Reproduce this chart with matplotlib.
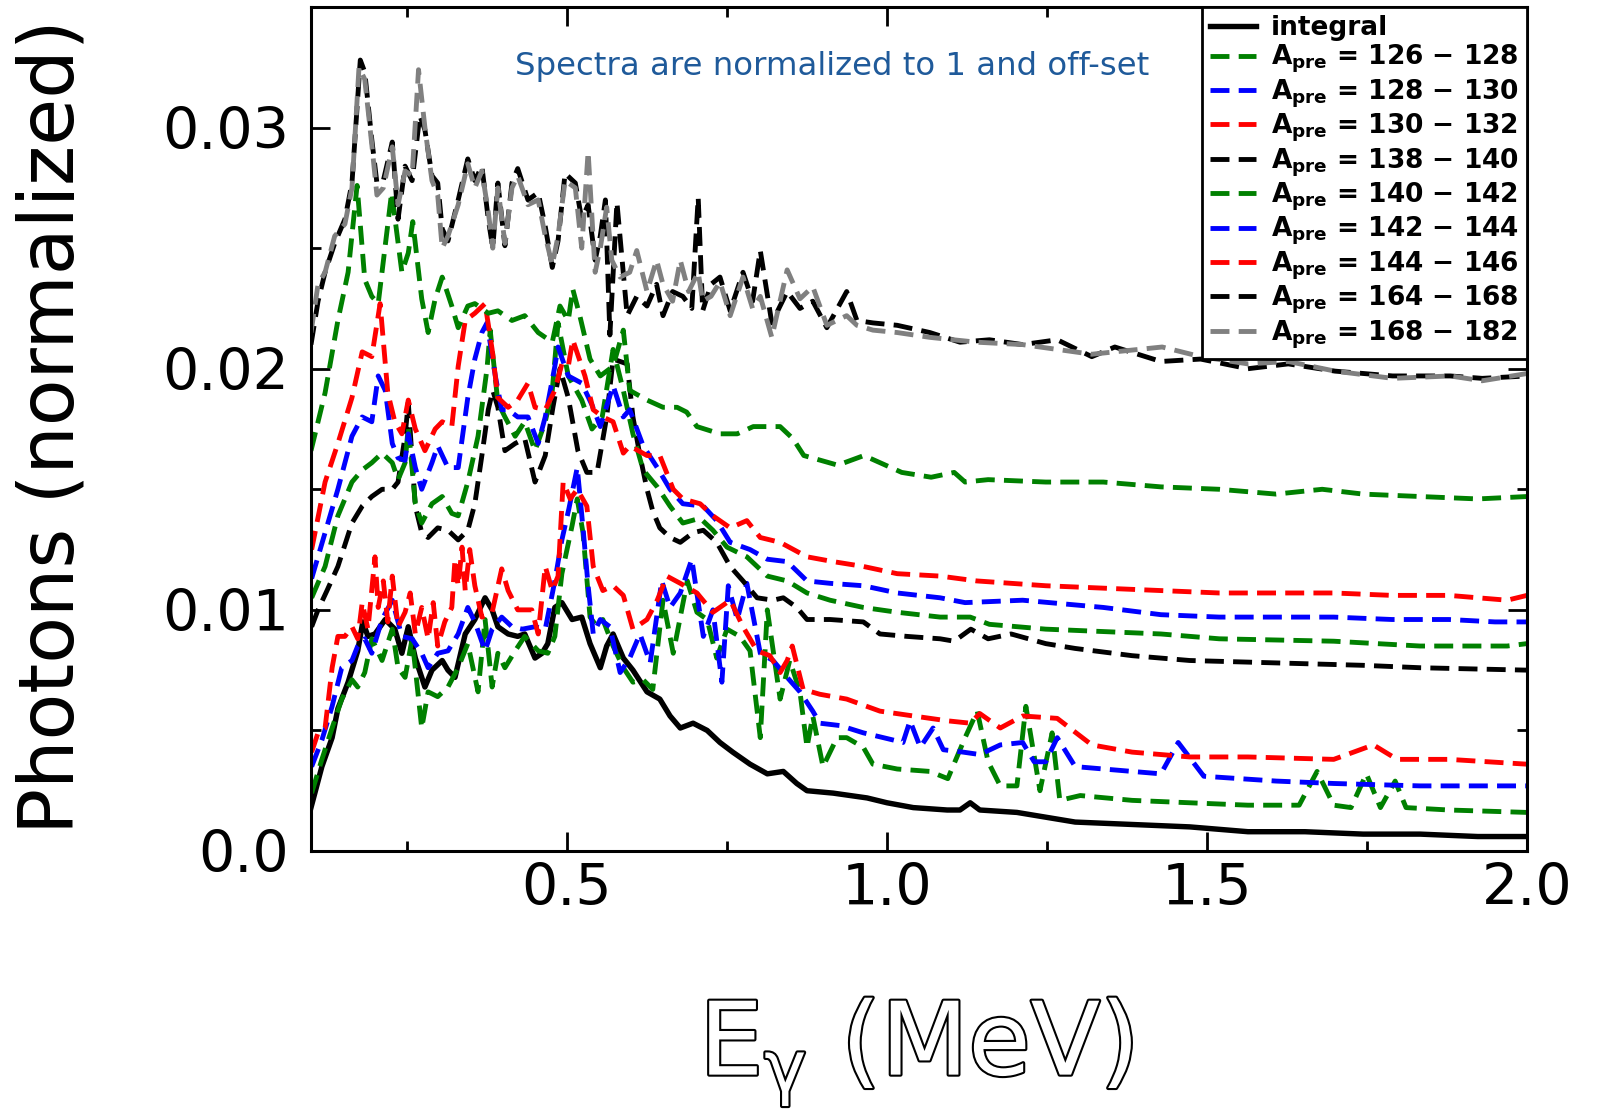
import matplotlib
matplotlib.use('Agg')
import matplotlib.pyplot as plt
import matplotlib.patheffects as pe
from matplotlib.ticker import MultipleLocator, FixedLocator, FuncFormatter

# ---------------- data (E in MeV, photons normalized + offset) ----------------
integral = [(0.100,0.0018),(0.117,0.0035),(0.133,0.0047),(0.142,0.0059),(0.158,0.0070),(0.173,0.0083),
    (0.181,0.0095),(0.189,0.0089),(0.200,0.0090),(0.216,0.0096),(0.231,0.0092),(0.242,0.0082),(0.252,0.0093),
    (0.263,0.0080),(0.278,0.0068),(0.289,0.0075),(0.305,0.0079),(0.314,0.0075),(0.325,0.0072),(0.341,0.0090),
    (0.356,0.0096),(0.372,0.0105),(0.383,0.0100),(0.392,0.0093),(0.408,0.0090),(0.423,0.0089),(0.434,0.0090),
    (0.450,0.0080),(0.461,0.0082),(0.470,0.0086),(0.481,0.0101),(0.492,0.0103),(0.508,0.0096),(0.523,0.0097),
    (0.536,0.0086),(0.552,0.0076),(0.562,0.0085),(0.572,0.0090),(0.588,0.0080),(0.603,0.0075),(0.625,0.0066),
    (0.645,0.0063),(0.661,0.0056),(0.677,0.0051),(0.697,0.0053),(0.719,0.0050),(0.739,0.0045),(0.759,0.0041),
    (0.786,0.0036),(0.813,0.0032),(0.838,0.0033),(0.859,0.0028),(0.875,0.0025),(0.916,0.0024),(0.969,0.0022),
    (1.000,0.0020),(1.041,0.0018),(1.094,0.0017),(1.114,0.0017),(1.130,0.0020),(1.145,0.0017),(1.203,0.0016),
    (1.294,0.0012),(1.383,0.0011),(1.473,0.0010),(1.564,0.0008),(1.653,0.0008),(1.744,0.0007),(1.833,0.0007),
    (1.923,0.0006),(2.000,0.0006)]

a126 = [(0.101,0.0024),(0.117,0.0038),(0.133,0.0051),(0.148,0.0063),(0.164,0.0071),(0.173,0.0068),(0.184,0.0074),
    (0.195,0.0088),(0.211,0.0079),(0.227,0.0092),(0.236,0.0076),(0.247,0.0072),(0.258,0.0088),(0.273,0.0051),
    (0.283,0.0066),(0.298,0.0064),(0.314,0.0068),(0.330,0.0076),(0.345,0.0086),(0.361,0.0066),(0.372,0.0096),
    (0.383,0.0068),(0.392,0.0082),(0.403,0.0076),(0.419,0.0083),(0.434,0.0089),(0.455,0.0083),(0.470,0.0082),
    (0.481,0.0089),(0.492,0.0115),(0.508,0.0135),(0.516,0.0146),(0.525,0.0132),(0.536,0.0097),(0.547,0.0093),
    (0.556,0.0096),(0.572,0.0085),(0.588,0.0076),(0.603,0.0070),(0.619,0.0071),(0.634,0.0067),(0.650,0.0104),
    (0.666,0.0082),(0.688,0.0112),(0.703,0.0099),(0.719,0.0096),(0.734,0.0080),(0.750,0.0092),(0.770,0.0089),
    (0.786,0.0083),(0.802,0.0047),(0.813,0.0100),(0.833,0.0063),(0.848,0.0079),(0.864,0.0066),(0.875,0.0043),
    (0.884,0.0056),(0.900,0.0035),(0.922,0.0047),(0.937,0.0047),(0.963,0.0043),(0.978,0.0036),(1.016,0.0034),
    (1.067,0.0033),(1.095,0.0030),(1.122,0.0047),(1.141,0.0058),(1.158,0.0037),(1.177,0.0027),(1.203,0.0027),
    (1.217,0.0060),(1.239,0.0025),(1.258,0.0049),(1.270,0.0021),(1.302,0.0023),(1.383,0.0021),(1.473,0.0020),
    (1.564,0.0019),(1.644,0.0019),(1.672,0.0033),(1.698,0.0019),(1.725,0.0018),(1.749,0.0032),(1.771,0.0018),
    (1.794,0.0029),(1.811,0.0018),(1.878,0.0017),(2.000,0.0016)]

a128 = [(0.101,0.0035),(0.117,0.0046),(0.133,0.0060),(0.148,0.0076),(0.164,0.0079),(0.173,0.0085),(0.184,0.0088),
    (0.195,0.0082),(0.211,0.0096),(0.227,0.0104),(0.242,0.0089),(0.258,0.0088),(0.273,0.0082),(0.283,0.0076),
    (0.298,0.0082),(0.314,0.0083),(0.330,0.0090),(0.345,0.0101),(0.356,0.0095),(0.372,0.0083),(0.383,0.0092),
    (0.398,0.0097),(0.414,0.0093),(0.430,0.0092),(0.450,0.0093),(0.466,0.0092),(0.481,0.0112),(0.492,0.0129),
    (0.503,0.0142),(0.516,0.0159),(0.525,0.0134),(0.533,0.0110),(0.541,0.0090),(0.552,0.0096),(0.567,0.0093),
    (0.583,0.0074),(0.598,0.0080),(0.614,0.0090),(0.630,0.0078),(0.648,0.0112),(0.661,0.0101),(0.677,0.0107),
    (0.695,0.0121),(0.713,0.0089),(0.728,0.0100),(0.742,0.0070),(0.752,0.0110),(0.766,0.0096),(0.781,0.0111),
    (0.802,0.0082),(0.822,0.0079),(0.844,0.0072),(0.864,0.0066),(0.884,0.0058),(0.895,0.0053),(0.927,0.0052),
    (0.963,0.0049),(1.010,0.0046),(1.025,0.0045),(1.036,0.0054),(1.052,0.0043),(1.072,0.0051),(1.088,0.0042),
    (1.119,0.0041),(1.145,0.0040),(1.177,0.0044),(1.212,0.0045),(1.230,0.0037),(1.248,0.0037),(1.266,0.0047),
    (1.294,0.0035),(1.383,0.0033),(1.428,0.0032),(1.455,0.0045),(1.495,0.0031),(1.608,0.0029),(1.698,0.0028),
    (1.833,0.0027),(2.000,0.0027)]

a130 = [(0.101,0.0041),(0.111,0.0049),(0.122,0.0051),(0.133,0.0076),(0.142,0.0089),(0.153,0.0089),(0.164,0.0093),
    (0.173,0.0088),(0.180,0.0103),(0.189,0.0092),(0.200,0.0122),(0.205,0.0101),(0.213,0.0112),(0.220,0.0095),
    (0.227,0.0114),(0.236,0.0093),(0.247,0.0099),(0.255,0.0107),(0.263,0.0090),(0.273,0.0101),(0.283,0.0088),
    (0.291,0.0103),(0.298,0.0085),(0.309,0.0095),(0.320,0.0101),(0.325,0.0121),(0.330,0.0110),(0.336,0.0126),
    (0.341,0.0108),(0.348,0.0125),(0.356,0.0110),(0.367,0.0097),(0.383,0.0099),(0.398,0.0117),(0.408,0.0108),
    (0.423,0.0100),(0.445,0.0100),(0.455,0.0090),(0.466,0.0118),(0.477,0.0108),(0.486,0.0114),(0.494,0.0153),
    (0.505,0.0146),(0.516,0.0150),(0.531,0.0143),(0.541,0.0118),(0.556,0.0108),(0.572,0.0110),(0.588,0.0106),
    (0.603,0.0092),(0.625,0.0096),(0.641,0.0104),(0.656,0.0114),(0.677,0.0111),(0.703,0.0107),(0.728,0.0099),
    (0.755,0.0104),(0.775,0.0093),(0.797,0.0083),(0.817,0.0081),(0.833,0.0074),(0.844,0.0079),(0.852,0.0085),
    (0.869,0.0067),(0.895,0.0065),(0.937,0.0063),(0.989,0.0058),(1.041,0.0056),(1.094,0.0054),(1.130,0.0053),
    (1.145,0.0057),(1.177,0.0051),(1.212,0.0056),(1.266,0.0055),(1.320,0.0044),(1.383,0.0041),(1.473,0.0039),
    (1.564,0.0039),(1.698,0.0038),(1.760,0.0044),(1.797,0.0038),(1.878,0.0038),(2.000,0.0036)]

a138 = [(0.101,0.0093),(0.111,0.0100),(0.125,0.0108),(0.142,0.0118),(0.164,0.0136),(0.180,0.0143),(0.195,0.0147),
    (0.211,0.0150),(0.227,0.0150),(0.236,0.0153),(0.247,0.0172),(0.252,0.0186),(0.263,0.0143),(0.273,0.0132),
    (0.283,0.0130),(0.298,0.0134),(0.314,0.0133),(0.330,0.0129),(0.345,0.0133),(0.356,0.0144),(0.367,0.0164),
    (0.377,0.0183),(0.384,0.0191),(0.392,0.0184),(0.403,0.0166),(0.419,0.0169),(0.434,0.0171),(0.450,0.0153),
    (0.466,0.0164),(0.478,0.0184),(0.489,0.0200),(0.502,0.0188),(0.517,0.0166),(0.531,0.0157),(0.547,0.0157),
    (0.562,0.0180),(0.572,0.0204),(0.594,0.0202),(0.603,0.0180),(0.614,0.0164),(0.625,0.0150),(0.634,0.0141),
    (0.645,0.0134),(0.661,0.0130),(0.677,0.0128),(0.697,0.0132),(0.713,0.0133),(0.734,0.0128),(0.755,0.0118),
    (0.775,0.0112),(0.797,0.0105),(0.822,0.0104),(0.838,0.0105),(0.859,0.0101),(0.875,0.0096),(0.911,0.0096),
    (0.963,0.0095),(0.989,0.0090),(1.031,0.0089),(1.083,0.0088),(1.105,0.0087),(1.131,0.0092),(1.158,0.0088),
    (1.194,0.0090),(1.248,0.0086),(1.294,0.0084),(1.383,0.0081),(1.473,0.0079),(1.608,0.0078),(1.744,0.0077),
    (1.833,0.0076),(2.000,0.0075)]

a140 = [(0.101,0.0105),(0.122,0.0118),(0.142,0.0139),(0.164,0.0153),(0.180,0.0158),(0.195,0.0161),(0.211,0.0165),
    (0.227,0.0161),(0.236,0.0154),(0.247,0.0161),(0.252,0.0176),(0.263,0.0144),(0.273,0.0136),(0.289,0.0144),
    (0.305,0.0147),(0.320,0.0140),(0.330,0.0139),(0.345,0.0153),(0.361,0.0172),(0.375,0.0200),(0.380,0.0216),
    (0.392,0.0186),(0.403,0.0180),(0.419,0.0172),(0.434,0.0178),(0.450,0.0166),(0.466,0.0178),(0.477,0.0191),
    (0.486,0.0219),(0.502,0.0197),(0.523,0.0187),(0.539,0.0175),(0.555,0.0180),(0.572,0.0208),(0.588,0.0191),
    (0.603,0.0173),(0.619,0.0158),(0.641,0.0151),(0.661,0.0143),(0.681,0.0136),(0.708,0.0138),(0.728,0.0133),
    (0.750,0.0126),(0.781,0.0122),(0.813,0.0114),(0.844,0.0112),(0.875,0.0107),(0.911,0.0104),(0.963,0.0101),
    (1.016,0.0099),(1.083,0.0097),(1.130,0.0097),(1.160,0.0094),(1.248,0.0092),(1.338,0.0091),(1.428,0.0090),
    (1.519,0.0088),(1.698,0.0087),(1.833,0.0085),(1.969,0.0085),(2.000,0.0086)]

a142 = [(0.101,0.0113),(0.122,0.0132),(0.142,0.0150),(0.164,0.0172),(0.180,0.0180),(0.195,0.0178),(0.205,0.0197),
    (0.216,0.0191),(0.227,0.0169),(0.236,0.0163),(0.247,0.0162),(0.252,0.0173),(0.263,0.0159),(0.273,0.0150),
    (0.289,0.0161),(0.298,0.0168),(0.314,0.0159),(0.330,0.0159),(0.345,0.0188),(0.356,0.0204),(0.367,0.0215),
    (0.375,0.0219),(0.388,0.0197),(0.398,0.0183),(0.408,0.0183),(0.423,0.0180),(0.439,0.0180),(0.455,0.0169),
    (0.466,0.0180),(0.481,0.0201),(0.486,0.0209),(0.502,0.0197),(0.523,0.0194),(0.539,0.0185),(0.552,0.0176),
    (0.572,0.0193),(0.588,0.0180),(0.598,0.0183),(0.619,0.0168),(0.641,0.0159),(0.661,0.0150),(0.681,0.0144),
    (0.713,0.0143),(0.734,0.0137),(0.755,0.0128),(0.786,0.0125),(0.813,0.0121),(0.844,0.0120),(0.875,0.0112),
    (0.911,0.0111),(0.963,0.0110),(1.016,0.0107),(1.083,0.0105),(1.122,0.0103),(1.212,0.0104),(1.338,0.0101),
    (1.428,0.0098),(1.519,0.0097),(1.698,0.0097),(1.789,0.0096),(1.878,0.0096),(1.950,0.0095),(2.000,0.0095)]

a144 = [(0.101,0.0125),(0.122,0.0153),(0.142,0.0169),(0.164,0.0188),(0.180,0.0207),(0.195,0.0205),(0.208,0.0227),
    (0.220,0.0190),(0.231,0.0178),(0.242,0.0173),(0.252,0.0187),(0.263,0.0175),(0.278,0.0166),(0.294,0.0175),
    (0.305,0.0178),(0.320,0.0176),(0.330,0.0201),(0.341,0.0220),(0.356,0.0223),(0.372,0.0227),(0.383,0.0208),
    (0.392,0.0188),(0.408,0.0184),(0.423,0.0187),(0.439,0.0194),(0.450,0.0184),(0.466,0.0183),(0.481,0.0191),
    (0.492,0.0202),(0.502,0.0201),(0.509,0.0212),(0.528,0.0197),(0.541,0.0183),(0.556,0.0180),(0.572,0.0178),
    (0.588,0.0165),(0.598,0.0168),(0.625,0.0164),(0.645,0.0164),(0.666,0.0150),(0.681,0.0146),(0.708,0.0144),
    (0.728,0.0139),(0.755,0.0134),(0.781,0.0137),(0.802,0.0130),(0.833,0.0128),(0.875,0.0122),(0.916,0.0120),
    (0.963,0.0118),(1.016,0.0115),(1.083,0.0114),(1.140,0.0112),(1.248,0.0110),(1.338,0.0109),(1.428,0.0108),
    (1.519,0.0107),(1.698,0.0107),(1.789,0.0106),(1.878,0.0106),(1.969,0.0104),(2.000,0.0106)]

green_off = [(0.100,0.0166),(0.122,0.0190),(0.142,0.0220),(0.158,0.0240),(0.172,0.0276),(0.184,0.0237),
    (0.195,0.0230),(0.205,0.0227),(0.226,0.0273),(0.242,0.0240),(0.252,0.0248),(0.259,0.0261),(0.273,0.0229),
    (0.283,0.0215),(0.294,0.0229),(0.305,0.0238),(0.320,0.0226),(0.330,0.0217),(0.345,0.0226),(0.356,0.0227),
    (0.377,0.0223),(0.392,0.0224),(0.414,0.0220),(0.434,0.0222),(0.455,0.0215),(0.477,0.0211),(0.489,0.0226),
    (0.502,0.0220),(0.509,0.0233),(0.520,0.0222),(0.536,0.0204),(0.552,0.0197),(0.572,0.0201),(0.588,0.0216),
    (0.598,0.0191),(0.625,0.0187),(0.650,0.0184),(0.672,0.0184),(0.687,0.0182),(0.703,0.0176),(0.739,0.0173),
    (0.766,0.0173),(0.791,0.0176),(0.833,0.0176),(0.853,0.0171),(0.870,0.0164),(0.923,0.0160),(0.964,0.0164),
    (1.023,0.0157),(1.069,0.0155),(1.105,0.0157),(1.122,0.0153),(1.158,0.0154),(1.248,0.0153),(1.338,0.0153),
    (1.428,0.0151),(1.519,0.0150),(1.608,0.0148),(1.680,0.0150),(1.744,0.0148),(1.833,0.0147),(1.923,0.0146),
    (2.000,0.0147)]

a164 = [(0.100,0.0210),(0.111,0.0228),(0.122,0.0240),(0.137,0.0252),(0.153,0.0262),(0.164,0.0277),(0.177,0.0328),
    (0.184,0.0323),(0.195,0.0295),(0.203,0.0277),(0.213,0.0278),(0.227,0.0294),(0.236,0.0262),(0.247,0.0284),
    (0.258,0.0278),(0.270,0.0305),(0.278,0.0299),(0.289,0.0280),(0.298,0.0277),(0.305,0.0258),(0.314,0.0253),
    (0.330,0.0270),(0.345,0.0287),(0.356,0.0278),(0.367,0.0284),(0.377,0.0262),(0.384,0.0250),(0.392,0.0277),
    (0.403,0.0251),(0.414,0.0277),(0.423,0.0283),(0.439,0.0270),(0.455,0.0273),(0.466,0.0259),(0.477,0.0242),
    (0.486,0.0253),(0.497,0.0281),(0.513,0.0277),(0.523,0.0262),(0.533,0.0268),(0.544,0.0245),(0.552,0.0255),
    (0.560,0.0270),(0.567,0.0214),(0.578,0.0269),(0.594,0.0222),(0.609,0.0230),(0.625,0.0226),(0.640,0.0235),
    (0.650,0.0222),(0.665,0.0232),(0.681,0.0230),(0.695,0.0225),(0.705,0.0271),(0.712,0.0224),(0.725,0.0235),
    (0.739,0.0238),(0.755,0.0224),(0.775,0.0240),(0.790,0.0228),(0.802,0.0249),(0.820,0.0219),(0.844,0.0232),
    (0.864,0.0225),(0.884,0.0228),(0.906,0.0217),(0.937,0.0232),(0.953,0.0220),(0.978,0.0219),(1.016,0.0218),
    (1.067,0.0215),(1.114,0.0211),(1.160,0.0212),(1.212,0.0210),(1.266,0.0212),(1.320,0.0205),(1.356,0.0209),
    (1.428,0.0203),(1.490,0.0204),(1.564,0.0200),(1.627,0.0202),(1.700,0.0199),(1.790,0.0197),(1.880,0.0197),
    (1.930,0.0196),(2.000,0.0197)]

a168 = [(0.100,0.0215),(0.111,0.0235),(0.122,0.0240),(0.137,0.0255),(0.153,0.0260),(0.164,0.0275),(0.175,0.0325),
    (0.184,0.0320),(0.195,0.0293),(0.203,0.0272),(0.213,0.0275),(0.227,0.0292),(0.236,0.0268),(0.247,0.0282),
    (0.258,0.0280),(0.268,0.0324),(0.278,0.0300),(0.289,0.0278),(0.298,0.0272),(0.305,0.0250),(0.314,0.0255),
    (0.330,0.0268),(0.345,0.0285),(0.356,0.0275),(0.367,0.0282),(0.377,0.0265),(0.384,0.0250),(0.392,0.0275),
    (0.403,0.0252),(0.414,0.0275),(0.423,0.0280),(0.439,0.0268),(0.455,0.0270),(0.466,0.0255),(0.477,0.0243),
    (0.486,0.0255),(0.497,0.0278),(0.513,0.0275),(0.523,0.0250),(0.533,0.0290),(0.544,0.0240),(0.552,0.0250),
    (0.562,0.0267),(0.570,0.0245),(0.583,0.0238),(0.598,0.0240),(0.609,0.0249),(0.625,0.0232),(0.640,0.0245),
    (0.650,0.0235),(0.665,0.0228),(0.677,0.0245),(0.690,0.0232),(0.705,0.0240),(0.712,0.0228),(0.725,0.0230),
    (0.739,0.0236),(0.755,0.0222),(0.775,0.0238),(0.790,0.0225),(0.802,0.0230),(0.820,0.0213),(0.844,0.0241),
    (0.864,0.0229),(0.884,0.0234),(0.906,0.0218),(0.937,0.0222),(0.953,0.0218),(0.978,0.0216),(1.016,0.0215),
    (1.067,0.0213),(1.140,0.0211),(1.212,0.0210),(1.266,0.0208),(1.320,0.0206),(1.356,0.0207),(1.430,0.0209),
    (1.490,0.0205),(1.564,0.0202),(1.627,0.0203),(1.700,0.0199),(1.790,0.0196),(1.880,0.0197),(1.930,0.0195),
    (2.000,0.0198)]

labels = ['integral',
          r'A$_{\mathbf{pre}}$ = 126 $-$ 128', r'A$_{\mathbf{pre}}$ = 128 $-$ 130', r'A$_{\mathbf{pre}}$ = 130 $-$ 132',
          r'A$_{\mathbf{pre}}$ = 138 $-$ 140', r'A$_{\mathbf{pre}}$ = 140 $-$ 142', r'A$_{\mathbf{pre}}$ = 142 $-$ 144',
          r'A$_{\mathbf{pre}}$ = 144 $-$ 146', r'A$_{\mathbf{pre}}$ = 164 $-$ 168', r'A$_{\mathbf{pre}}$ = 168 $-$ 182']
xticks = [0.5, 1.0, 1.5, 2.0]
yticks = [0.0, 0.01, 0.02, 0.03]

# ---------------- figure ----------------
plt.rcParams['mathtext.default'] = 'regular'
fig = plt.figure(figsize=(16.05, 11.16), dpi=100)
ax = fig.add_axes([311/1605, 1-851/1116, (1527-311)/1605, (851-7)/1116])

GREEN, BLUE, RED, BLACK, GRAY = '#008000', '#0000ff', '#ff0000', '#000000', '#808080'
LW = 3.5
DASH = (0, (3.9, 1.9))
series = [
    (integral, BLACK, '-', 3.9, labels[0]),
    (a126, GREEN, DASH, LW, labels[1]),
    (a128, BLUE, DASH, LW, labels[2]),
    (a130, RED, DASH, LW, labels[3]),
    (a138, BLACK, DASH, LW, labels[4]),
    (a140, GREEN, DASH, LW, labels[5]),
    (a142, BLUE, DASH, LW, labels[6]),
    (a144, RED, DASH, LW, labels[7]),
    (green_off, GREEN, DASH, LW, '_nolegend_'),
    (a164, BLACK, DASH, LW, labels[8]),
    (a168, GRAY, DASH, LW, labels[9]),
]
for pts, col, ls, lw, lab in series:
    xs = [p[0] for p in pts]
    ys = [p[1] for p in pts]
    ax.plot(xs, ys, color=col, linestyle=ls, linewidth=lw, label=lab)

ax.set_xlim(0.1, 2.0)
ax.set_ylim(0.0, 0.035)
ax.xaxis.set_major_locator(FixedLocator(xticks))
ax.xaxis.set_minor_locator(MultipleLocator(0.25))
ax.yaxis.set_major_locator(FixedLocator(yticks))
ax.yaxis.set_minor_locator(MultipleLocator(0.005))
ax.yaxis.set_major_formatter(FuncFormatter(lambda v, p: '0.0' if abs(v) < 1e-12 else f'{v:.2f}'))
ax.xaxis.set_major_formatter(FuncFormatter(lambda v, p: f'{v:.1f}'))
ax.tick_params(which='both', direction='in', top=True, right=True, width=2.0, colors='black')
ax.tick_params(which='major', length=14)
ax.tick_params(which='minor', length=7)
ax.tick_params(axis='x', which='major', labelsize=41, pad=8)
ax.tick_params(axis='y', which='major', labelsize=41, pad=16)
for s in ax.spines.values():
    s.set_linewidth(2.2)

leg = ax.legend(loc='upper right', borderaxespad=0.0, frameon=True, fancybox=False,
                edgecolor='black', framealpha=1.0, handlelength=1.75, handletextpad=0.55,
                labelspacing=0.08, borderpad=0.3,
                prop={'weight': 'bold', 'size': 19})
leg.get_frame().set_linewidth(2.0)

fig.text(832/1605, 1-66/1116, 'Spectra are normalized to 1 and off-set', ha='center', va='center',
         fontsize=23.3, color='#1f5a9a')

fig.text(53/1605, 1-427/1116, 'Photons (normalized)', rotation=90, ha='center', va='center', fontsize=55)
fig.text(916/1605, 1-1052/1116, r'E$_\gamma$ (MeV)', ha='center', va='center', fontsize=73, color='white',
         path_effects=[pe.withStroke(linewidth=3.0, foreground='black')])

fig.savefig('out.png', dpi=100)
